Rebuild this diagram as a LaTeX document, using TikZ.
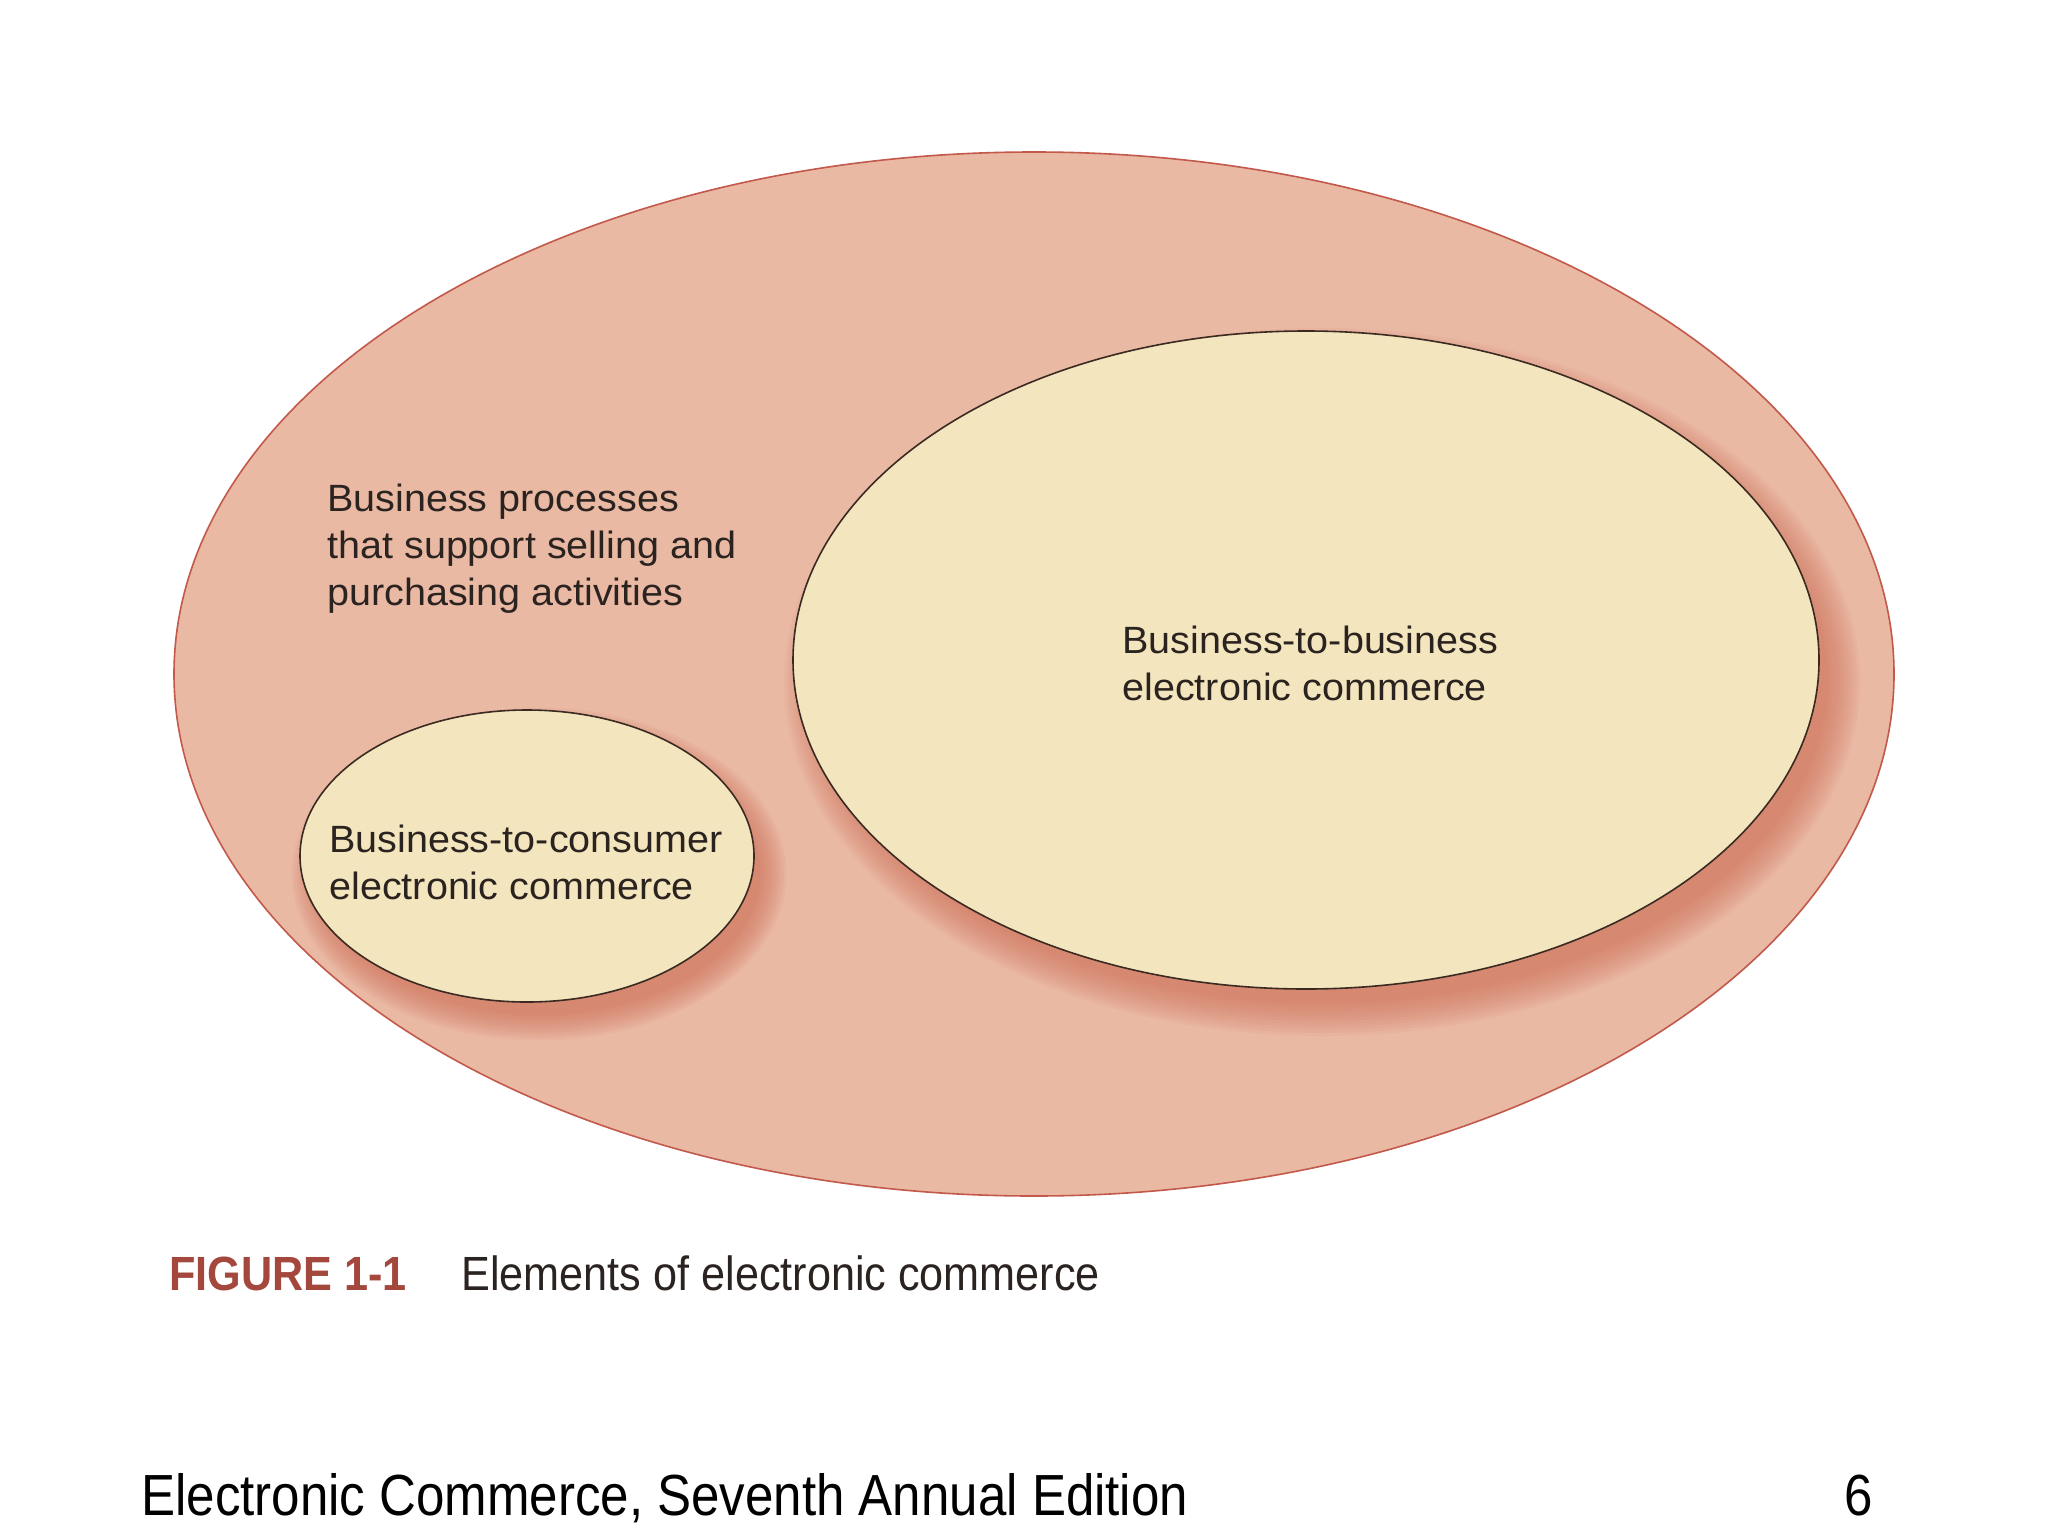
\documentclass[tikz,border=0pt]{standalone}
\usepackage{fontspec}
\setmainfont{Liberation Sans}
\usetikzlibrary{shapes.geometric}
\definecolor{outerfill}{HTML}{E9B9A4}
\definecolor{outerline}{HTML}{C2594A}
\definecolor{innerfill}{HTML}{F3E5BD}
\definecolor{innerline}{HTML}{3A2A22}
\definecolor{shadowc}{HTML}{CF6F58}
\definecolor{figred}{HTML}{A4473D}
\definecolor{textc}{HTML}{2B2320}
\begin{document}
\begin{tikzpicture}[x=0.5pt,y=-0.5pt,
  outerell/.style={ellipse, draw=outerline, line width=0.8pt, fill=outerfill, inner sep=0pt, outer sep=0pt},
  innerell/.style={ellipse, draw=innerline, line width=0.8pt, fill=innerfill, inner sep=0pt, outer sep=0pt},
  lbl/.style={anchor=base west, align=left, inner sep=0pt, text=textc, xscale=1.04,
    font=\fontsize{19pt}{23.5pt}\selectfont},
  capfig/.style={anchor=base west, inner sep=0pt, text=figred, xscale=0.9,
    font=\fontsize{24pt}{26pt}\selectfont\bfseries},
  captxt/.style={anchor=base west, inner sep=0pt, text=textc, xscale=0.9,
    font=\fontsize{24pt}{26pt}\selectfont},
  foot/.style={inner sep=0pt, text=black, xscale=0.88,
    font=\fontsize{29pt}{32pt}\selectfont}]
\useasboundingbox (0,0) rectangle (2048,1536);
\fill[white] (0,0) rectangle (2048,1536);
% outer ellipse
\node[outerell, minimum width=860pt, minimum height=522pt] (outer) at (1034,674) {};
% shadows of inner ellipses
\foreach \k in {0,...,11}{
  \fill[shadowc, opacity=0.075] (1322,682) ellipse [x radius={513+3*\k-8}, y radius={329+3*\k-8}];
  \fill[shadowc, opacity=0.075] (539,874) ellipse [x radius={227+2.4*\k-6}, y radius={146+2.4*\k-6}];
}
% inner ellipses
\node[innerell, minimum width=513pt, minimum height=329pt] (b2b) at (1306,660) {};
\node[innerell, minimum width=227pt, minimum height=146pt] (b2c) at (527,856) {};
% labels (base = last line)
\node[lbl] (proc) at (327,605) {Business processes\\that support selling and\\purchasing activities};
\node[lbl] (b2btxt) at (1122,700) {Business-to-business\\electronic commerce};
\node[lbl] (b2ctxt) at (329,899) {Business-to-consumer\\electronic commerce};
% caption
\node[capfig] (fig) at (169,1290) {FIGURE 1-1};
\node[captxt] (figtxt) at (461,1290) {Elements of electronic commerce};
% footer
\node[foot, anchor=base west] (footl) at (141,1515) {Electronic Commerce, Seventh Annual Edition};
\node[foot, anchor=base east] (footr) at (1873,1515) {6};
\end{tikzpicture}
\end{document}
